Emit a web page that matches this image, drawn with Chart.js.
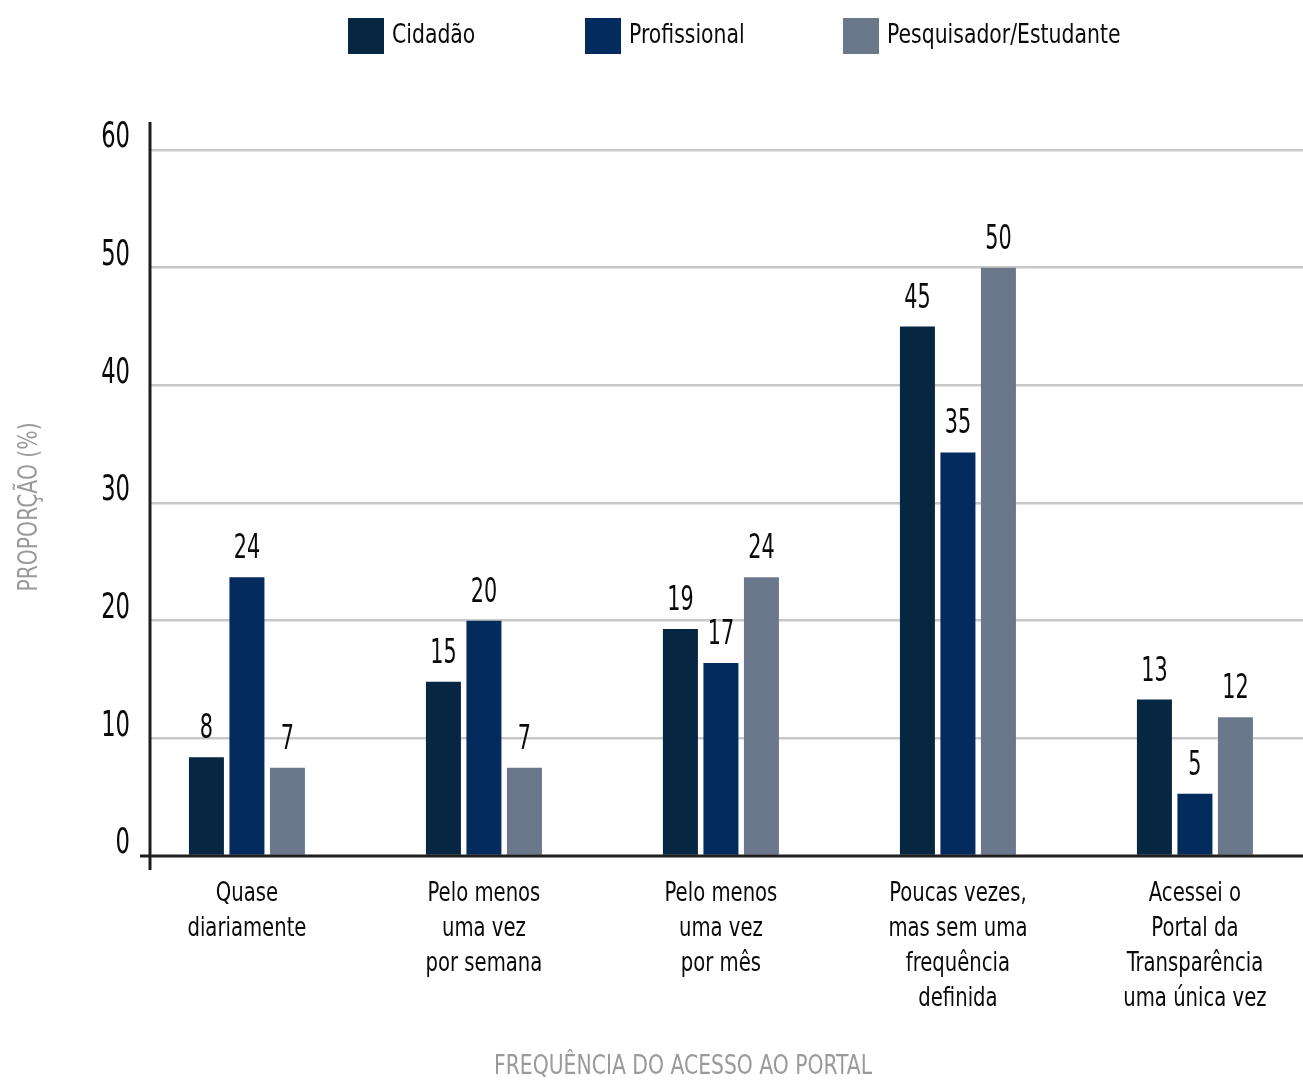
<!DOCTYPE html>
<html>
<head>
<meta charset="utf-8">
<script src="https://cdn.jsdelivr.net/npm/chart.js@4.4.1/dist/chart.umd.min.js"></script>
<style>
  html, body { margin: 0; padding: 0; background: #ffffff; }
  #wrap { width: 1303px; height: 1083px; position: relative; }
</style>
</head>
<body>
<div id="wrap"><canvas id="c" width="1303" height="1083"></canvas></div>
<script>
// ---- data ----
const categories = [
  ["Quase", "diariamente"],
  ["Pelo menos", "uma vez", "por semana"],
  ["Pelo menos", "uma vez", "por mês"],
  ["Poucas vezes,", "mas sem uma", "frequência", "definida"],
  ["Acessei o", "Portal da", "Transparência", "uma única vez"]
];
const seriesNames = ["Cidadão", "Profissional", "Pesquisador/Estudante"];
const cidadao = [8.4, 14.8, 19.3, 45.0, 13.3];
const profissional = [23.7, 20.0, 16.4, 34.3, 5.3];
const pesquisador = [7.5, 7.5, 23.7, 50.0, 11.8];
const cidadaoLabels = ["8", "15", "19", "45", "13"];
const profissionalLabels = ["24", "20", "17", "35", "5"];
const pesquisadorLabels = ["7", "7", "24", "50", "12"];
const yTicks = [0, 10, 20, 30, 40, 50, 60];
const yTitle = "PROPORÇÃO (%)";
const xTitle = "FREQUÊNCIA DO ACESSO AO PORTAL";

const FONT = "'DejaVu Sans Condensed', 'Liberation Sans Narrow', sans-serif";
const colors = ["#072641", "#032b5e", "#6b788b"];
const valueSets = [cidadao, profissional, pesquisador];
const labelSets = [cidadaoLabels, profissionalLabels, pesquisadorLabels];

const canvas = document.getElementById('c');
const ctx2d = canvas.getContext('2d');
// condensed text rendering (the original uses a narrow typeface)
const origFillText = ctx2d.fillText;
ctx2d.fillText = function (t, x, y, maxW) {
  const s = String(t);
  const f = this._condense || (/^\d+$/.test(s) ? 0.7 : 0.84);
  this.save();
  this.translate(x, y);
  this.scale(f, 1);
  origFillText.call(this, s, 0, 0);
  this.restore();
};

const datasets = seriesNames.map((name, k) => ({
  label: name,
  data: valueSets[k].map((v, i) => ({ x: i, y: v })),
  backgroundColor: colors[k],
  borderWidth: 0,
  categoryPercentage: 0.5127,
  barPercentage: 0.864,
  valueLabels: labelSets[k]
}));

const decorPlugin = {
  id: 'decor',
  afterDatasetsDraw(chart) {
    const ctx = chart.ctx;
    const ys = chart.scales.y;
    const area = chart.chartArea;
    const y0 = ys.getPixelForValue(0);
    ctx.save();
    // zero line
    ctx.strokeStyle = '#1e1e1e';
    ctx.lineWidth = 3;
    ctx.beginPath();
    ctx.moveTo(area.left - 10, y0);
    ctx.lineTo(area.right, y0);
    ctx.stroke();
    // vertical axis
    ctx.beginPath();
    ctx.moveTo(area.left, area.top - 28);
    ctx.lineTo(area.left, y0 + 14);
    ctx.stroke();
    // value labels
    ctx.fillStyle = '#0a0a0a';
    ctx.font = "33px " + FONT;
    ctx.textAlign = 'center';
    ctx.textBaseline = 'alphabetic';
    chart.data.datasets.forEach((ds, k) => {
      const meta = chart.getDatasetMeta(k);
      meta.data.forEach((el, i) => {
        ctx.fillText(ds.valueLabels[i], el.x, el.y - 19);
      });
    });
    // axis titles
    ctx._condense = 0.87;
    ctx.fillStyle = '#9a9a9a';
    ctx.font = "26px " + FONT;
    ctx.textBaseline = 'middle';
    ctx.fillText(xTitle, 683, 1067);
    ctx.translate(30, (area.top + y0) / 2 + 4);
    ctx.rotate(-Math.PI / 2);
    ctx.fillText(yTitle, 0, 0);
    ctx._condense = 0;
    ctx.restore();
    // legend
    ctx.save();
    const lx = [348, 585, 843];
    ctx.font = "27px " + FONT;
    ctx.textAlign = 'left';
    ctx.textBaseline = 'middle';
    chart.data.datasets.forEach((ds, k) => {
      ctx.fillStyle = ds.backgroundColor;
      ctx.fillRect(lx[k], 18, 36, 36);
      ctx.fillStyle = '#0a0a0a';
      ctx.fillText(ds.label, lx[k] + 44, 36);
    });
    ctx.restore();
  }
};

new Chart(canvas, {
  type: 'bar',
  data: { datasets },
  options: {
    responsive: false,
    animation: false,
    devicePixelRatio: 1,
    layout: { padding: { top: 150, left: 0, right: 0, bottom: 0 } },
    plugins: { legend: { display: false }, tooltip: { enabled: false } },
    scales: {
      x: {
        type: 'linear',
        min: -0.409,
        max: 4.456,
        offset: false,
        afterBuildTicks: (scale) => { scale.ticks = categories.map((c, i) => ({ value: i })); },
        afterFit: (scale) => { scale.height = 1083 - 856; },
        grid: { display: false, drawTicks: false },
        border: { display: false },
        ticks: {
          callback: (v) => categories[v],
          font: { family: FONT, size: 26, lineHeight: 1.346 },
          color: '#0a0a0a',
          padding: 21,
          maxRotation: 0,
          autoSkip: false
        }
      },
      y: {
        min: 0,
        max: 60,
        afterBuildTicks: (scale) => { scale.ticks = yTicks.map(v => ({ value: v })); },
        afterFit: (scale) => { scale.width = 150; },
        grid: {
          drawTicks: false,
          color: (c) => c.tick && c.tick.value === 0 ? 'rgba(0,0,0,0)' : '#c8c8c8',
          lineWidth: 2.5
        },
        border: { display: false },
        ticks: {
          font: { family: FONT, size: 36 },
          color: '#0a0a0a',
          padding: 20,
          labelOffset: -12
        }
      }
    }
  },
  plugins: [decorPlugin]
});
</script>
</body>
</html>
